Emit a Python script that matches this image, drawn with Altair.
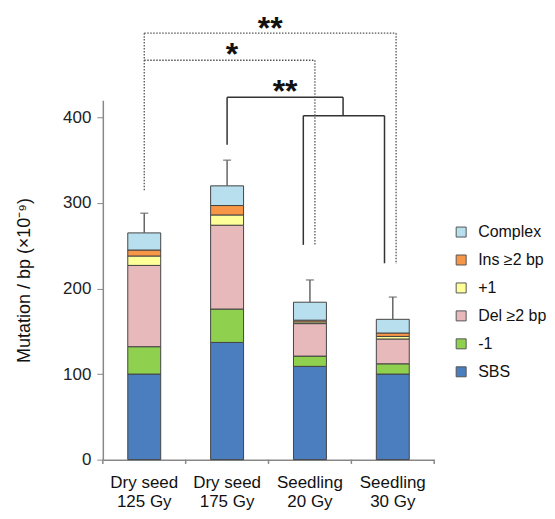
import altair as alt
import pandas as pd

groups = ["Dry seed\n125 Gy", "Dry seed\n175 Gy", "Seedling\n20 Gy", "Seedling\n30 Gy"]
types = ["SBS", "-1", "Del ≥2 bp", "+1", "Ins ≥2 bp", "Complex"]
colors = ["#4a7ebf", "#8fd14f", "#e8b9ba", "#ffff99", "#f79646", "#b7dfee"]

sbs = [100, 137, 109, 100]
minus1 = [32, 39, 12, 12]
del2 = [95, 98, 38, 29]
plus1 = [11, 12, 2, 3]
ins2 = [7, 11, 2, 4]
complex_ = [20, 23, 21, 16]
err_top = [288, 350, 210, 190]

series = [sbs, minus1, del2, plus1, ins2, complex_]

rows = []
for ti, (t, vals) in enumerate(zip(types, series)):
    for g, v in zip(groups, vals):
        rows.append({"group": g, "type": t, "value": v, "order": ti})
df = pd.DataFrame(rows)

totals = [sum(s[i] for s in series) for i in range(len(groups))]
err_df = pd.DataFrame({"group": groups, "total": totals, "top": err_top})

# significance brackets (x in bar-slot units, y in data units)
h_x = [0.5, 0.5, 1.5, 2.42]
h_x2 = [3.54, 2.56, 2.9, 3.40]
h_y = [498.5, 466.8, 423.7, 402]
h_style = ["dot", "dot", "solid", "solid"]
v_x = [0.5, 3.54, 2.56, 1.5, 2.9, 2.42, 3.40]
v_y = [498.5, 498.5, 466.8, 423.7, 423.7, 402, 402]
v_y2 = [315, 228.7, 250, 368, 402, 251, 229.5]
v_style = ["dot", "dot", "dot", "solid", "solid", "solid", "solid"]
s_x = [2.02, 1.56, 2.2]
s_y = [503.5, 472.6, 430]
s_text = ["**", "*", "**"]

h_df = pd.DataFrame({"x": h_x, "x2": h_x2, "y": h_y, "style": h_style})
v_df = pd.DataFrame({"x": v_x, "y": v_y, "y2": v_y2, "style": v_style})
s_df = pd.DataFrame({"x": s_x, "y": s_y, "t": s_text})
tick_df = pd.DataFrame({"x": [0, 1, 2, 3, 4], "y": [0] * 5, "y2": [-5] * 5})

FONT = "Liberation Sans"
yscale = alt.Scale(domain=[0, 420], nice=False)
xq = alt.X("x:Q", scale=alt.Scale(domain=[0, 4], nice=False, zero=False), axis=None)

bars = alt.Chart(df).mark_bar(size=33, stroke="#444444", strokeWidth=1).encode(
    x=alt.X("group:N", sort=groups, title=None,
            axis=alt.Axis(labelExpr="split(datum.label, '\\n')", labelAngle=0,
                          ticks=False, labelFontSize=17, labelColor="#111111",
                          labelPadding=15, labelLineHeight=19, labelFont=FONT,
                          domainColor="#888888", domainWidth=1.5)),
    y=alt.Y("value:Q", stack="zero", scale=yscale,
            title="Mutation / bp (×10⁻⁹)",
            axis=alt.Axis(values=[0, 100, 200, 300, 400], labelFontSize=17,
                          labelColor="#222222", labelFont=FONT, titleFont=FONT,
                          titleFontSize=18, titleFontWeight="normal",
                          titleColor="#111111", tickColor="#888888",
                          domainColor="#888888", domainWidth=1.5, tickSize=6,
                          labelPadding=6, titlePadding=29, grid=False)),
    color=alt.Color("type:N", scale=alt.Scale(domain=types, range=colors),
                    legend=alt.Legend(title=None, values=list(reversed(types)),
                                      orient="none", legendX=351, legendY=124,
                                      symbolType="square", symbolSize=100,
                                      symbolStrokeColor="#555555", symbolStrokeWidth=1,
                                      labelFontSize=16, labelFont=FONT, labelColor="#111111",
                                      rowPadding=12, labelOffset=9, padding=0)),
    order=alt.Order("order:Q", sort="ascending"),
)

err_line = alt.Chart(err_df).mark_rule(color="#666666", strokeWidth=1.5).encode(
    x=alt.X("group:N", sort=groups), y=alt.Y("total:Q", scale=yscale), y2="top:Q")
err_cap = alt.Chart(err_df).mark_tick(color="#666666", thickness=1.5, size=8).encode(
    x=alt.X("group:N", sort=groups), y=alt.Y("top:Q", scale=yscale))

base_bars = alt.layer(bars, err_line, err_cap)

h_dot = alt.Chart(h_df[h_df["style"] == "dot"]).mark_rule(
    color="#555555", strokeWidth=1.3, strokeDash=[1.5, 1.5]).encode(
    x=xq, x2="x2:Q", y=alt.Y("y:Q", scale=yscale))
h_solid = alt.Chart(h_df[h_df["style"] == "solid"]).mark_rule(
    color="#333333", strokeWidth=1.5).encode(
    x=xq, x2="x2:Q", y=alt.Y("y:Q", scale=yscale))
v_dot = alt.Chart(v_df[v_df["style"] == "dot"]).mark_rule(
    color="#555555", strokeWidth=1.3, strokeDash=[1.5, 1.5]).encode(
    x=xq, y=alt.Y("y:Q", scale=yscale), y2="y2:Q")
v_solid = alt.Chart(v_df[v_df["style"] == "solid"]).mark_rule(
    color="#333333", strokeWidth=1.5).encode(
    x=xq, y=alt.Y("y:Q", scale=yscale), y2="y2:Q")
stars = alt.Chart(s_df).mark_text(
    font=FONT, fontWeight="bold", fontSize=32, color="#111111",
    baseline="alphabetic", dy=10).encode(
    x=xq, y=alt.Y("y:Q", scale=yscale), text="t:N")
xticks = alt.Chart(tick_df).mark_rule(color="#888888", strokeWidth=1.5).encode(
    x=xq, y=alt.Y("y:Q", scale=yscale), y2="y2:Q")

annot = alt.layer(h_dot, h_solid, v_dot, v_solid, stars, xticks)

chart = alt.layer(base_bars, annot).resolve_scale(x="independent").properties(
    width=332, height=360, background="white",
    padding={"left": 7, "top": 4, "right": 0, "bottom": 0}
).configure_view(stroke=None)

chart.save("out.html", embed_options={"renderer": "svg", "actions": False})
